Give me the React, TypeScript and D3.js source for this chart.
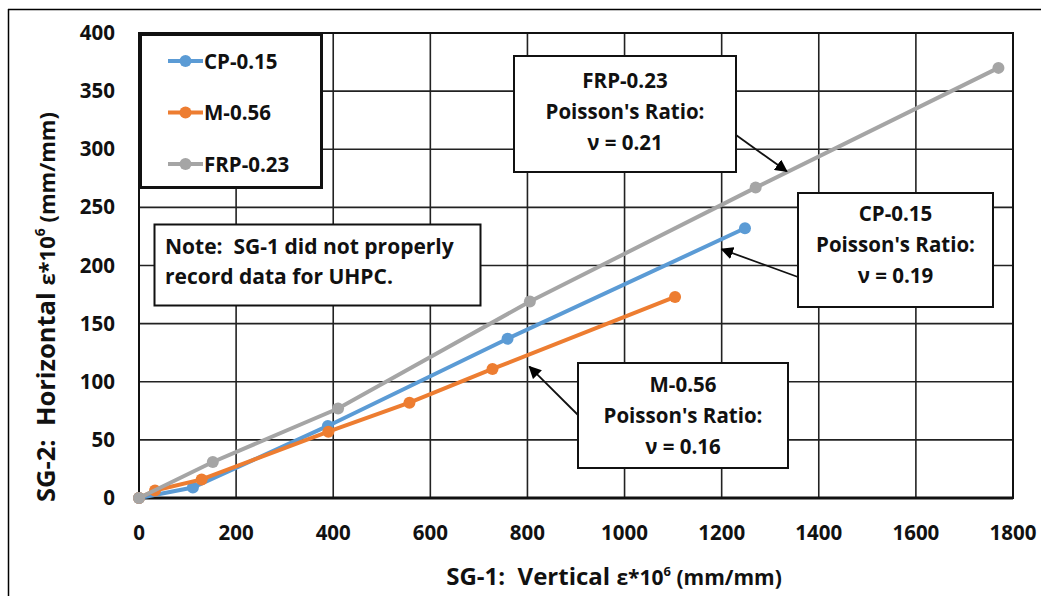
import * as d3 from 'd3';

// chart data
const cpX = [0, 111, 389, 759, 1248];
const cpY = [0, 9, 62, 137, 232];
const mX = [0, 33, 129, 390, 557, 728, 1104];
const mY = [0, 6.5, 16, 57, 82, 111, 173];
const frpX = [0, 152, 410, 805, 1270, 1770];
const frpY = [0, 31, 77, 169, 267, 370];

const xTicks = [0, 200, 400, 600, 800, 1000, 1200, 1400, 1600, 1800];
const yTicks = [0, 50, 100, 150, 200, 250, 300, 350, 400];

const seriesNames = ['CP-0.15', 'M-0.56', 'FRP-0.23'];
const seriesColors = ['#5B9BD5', '#ED7D31', '#A5A5A5'];

const ratioTitles = ['FRP-0.23', 'CP-0.15', 'M-0.56'];
const ratioValues = ['0.21', '0.19', '0.16'];
// arrow tips in data units
const ratioTipX = [1334, 1200, 804];
const ratioTipY = [281, 214, 113];

const W = 1041;
const H = 596;
const plot = { left: 139, right: 1013, top: 33, bottom: 498 };
const font = '"Open Sans", Lato, Arial, sans-serif';

const x = d3.scaleLinear().domain([0, 1800]).range([plot.left, plot.right]);
const y = d3.scaleLinear().domain([0, 400]).range([plot.bottom, plot.top]);

const series = [
  cpX.map((v, i) => [v, cpY[i]] as [number, number]),
  mX.map((v, i) => [v, mY[i]] as [number, number]),
  frpX.map((v, i) => [v, frpY[i]] as [number, number]),
];

const line = d3.line<[number, number]>().x(d => x(d[0])).y(d => y(d[1]));

// annotation boxes (pixels), ty = baseline of first text line
const boxes = [
  { x: 514, y: 56, w: 222, h: 116, ax: 736, ay: 135, ty: 88 },
  { x: 798, y: 193, w: 195, h: 114, ax: 798, ay: 277, ty: 221 },
  { x: 578, y: 363, w: 210, h: 105, ax: 578, ay: 415, ty: 392 },
];

export default function App() {
  return (
    <svg width={W} height={H} style={{ position: 'absolute', left: 0, top: 0, background: 'white' }} fontFamily={font}>
      <defs>
        <marker id="arr" viewBox="0 0 10 10" refX="9" refY="5" markerWidth="7" markerHeight="7" orient="auto-start-reverse">
          <path d="M0,0 L10,5 L0,10 z" fill="#000" />
        </marker>
      </defs>
      <rect x={0} y={0} width={W} height={H} fill="white" />
      {/* outer frame */}
      <line x1={8.5} y1={9} x2={8.5} y2={H} stroke="#000" strokeWidth={1.5} />
      <line x1={8} y1={9.5} x2={W} y2={9.5} stroke="#000" strokeWidth={1.5} />

      {/* grid */}
      {xTicks.map(t => (
        <line key={'gx' + t} x1={x(t)} x2={x(t)} y1={plot.top} y2={plot.bottom} stroke="#222" strokeWidth={1.6} />
      ))}
      {yTicks.map(t => (
        <line key={'gy' + t} x1={plot.left} x2={plot.right} y1={y(t)} y2={y(t)} stroke="#222" strokeWidth={1.6} />
      ))}
      <rect x={plot.left} y={plot.top} width={plot.right - plot.left} height={plot.bottom - plot.top} fill="none" stroke="#111" strokeWidth={2} />
      <line x1={plot.left} x2={plot.right} y1={plot.bottom} y2={plot.bottom} stroke="#111" strokeWidth={3} />

      {/* tick labels */}
      {xTicks.map(t => (
        <text key={'tx' + t} x={x(t)} y={540} textAnchor="middle" fontSize={20.5} fontWeight={700} fill="#111">{t}</text>
      ))}
      {yTicks.map(t => (
        <text key={'ty' + t} x={115} y={y(t) + 7} textAnchor="end" fontSize={20.5} fontWeight={700} fill="#111">{t}</text>
      ))}

      {/* axis titles */}
      <text x={614} y={585} textAnchor="middle" fontSize={24} fontWeight={700} fill="#111" style={{ whiteSpace: 'pre' }}>
        SG-1:  Vertical <tspan fontSize={21}>ε*10</tspan><tspan fontSize={13} dy={-9}>6</tspan><tspan fontSize={21} dy={9}> (mm/mm)</tspan>
      </text>
      <text transform={`translate(55,${307}) rotate(-90)`} textAnchor="middle" fontSize={25.5} fontWeight={700} fill="#111" style={{ whiteSpace: 'pre' }}>
        SG-2:  Horizontal <tspan fontSize={22}>ε*10</tspan><tspan fontSize={14} dy={-10}>6</tspan><tspan fontSize={22} dy={10}> (mm/mm)</tspan>
      </text>

      {/* series */}
      {series.map((s, i) => (
        <g key={'s' + i}>
          <path d={line(s) || ''} fill="none" stroke={seriesColors[i]} strokeWidth={4} />
          {s.map((p, j) => (
            <circle key={j} cx={x(p[0])} cy={y(p[1])} r={6} fill={seriesColors[i]} />
          ))}
        </g>
      ))}

      {/* legend */}
      <rect x={140.5} y={34.5} width={181} height={153} fill="white" stroke="#111" strokeWidth={3} />
      {seriesNames.map((n, i) => (
        <g key={'lg' + i} transform={`translate(0,${61 + i * 51.5})`}>
          <line x1={168} x2={203} y1={0} y2={0} stroke={seriesColors[i]} strokeWidth={4} />
          <circle cx={185.5} cy={0} r={6} fill={seriesColors[i]} />
          <text x={204} y={7.5} fontSize={20.5} fontWeight={700} fill="#111">{n}</text>
        </g>
      ))}

      {/* note */}
      <rect x={154.5} y={224.5} width={326} height={81} fill="white" stroke="#111" strokeWidth={2} />
      <text x={165} y={254} fontSize={21} fontWeight={700} fill="#111" style={{ whiteSpace: 'pre' }}>Note:  SG-1 did not properly</text>
      <text x={165} y={284} fontSize={21} fontWeight={700} fill="#111">record data for UHPC.</text>

      {/* poisson's ratio call-outs */}
      {boxes.map((b, i) => (
        <g key={'b' + i}>
          <line x1={b.ax} y1={b.ay} x2={x(ratioTipX[i])} y2={y(ratioTipY[i])} stroke="#111" strokeWidth={1.8} markerEnd="url(#arr)" />
          <rect x={b.x} y={b.y} width={b.w} height={b.h} fill="white" stroke="#111" strokeWidth={2} />
          <text x={b.x + b.w / 2} y={b.ty} textAnchor="middle" fontSize={20.5} fontWeight={700} fill="#111">{ratioTitles[i]}</text>
          <text x={b.x + b.w / 2} y={b.ty + 31} textAnchor="middle" fontSize={20.5} fontWeight={700} fill="#111">Poisson's Ratio:</text>
          <text x={b.x + b.w / 2} y={b.ty + 62} textAnchor="middle" fontSize={20.5} fontWeight={700} fill="#111">ν = {ratioValues[i]}</text>
        </g>
      ))}
    </svg>
  );
}
